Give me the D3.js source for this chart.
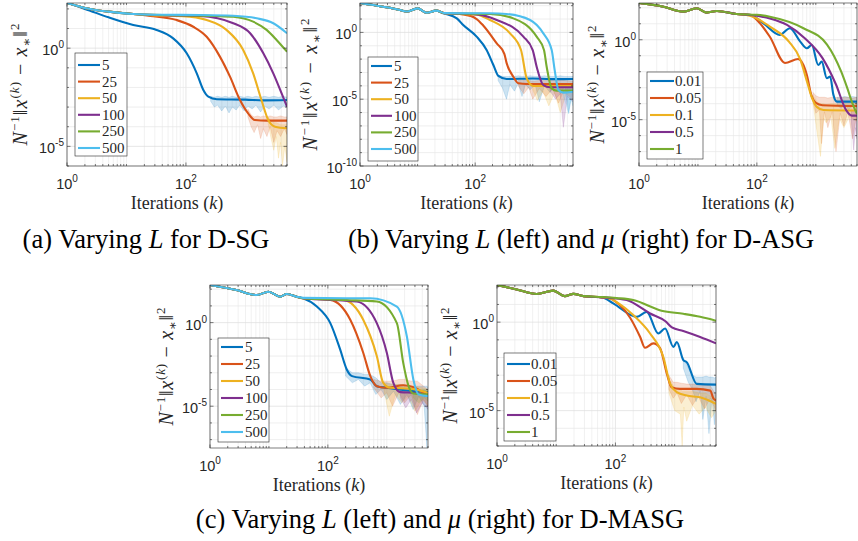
<!DOCTYPE html>
<html>
<head>
<meta charset="utf-8">
<style>
  body { margin: 0; background: #fff; }
  svg { display: block; }
</style>
<script src="https://cdn.jsdelivr.net/npm/d3@7"></script>
</head>
<body>
<script>
const colors = ["#0072BD", "#D95319", "#EDB120", "#7E2F8E", "#77AC30", "#4DBEEE"];
const lLabels = ["5", "25", "50", "100", "250", "500"];
const muLabels = ["0.01", "0.05", "0.1", "0.5", "1"];
const xDomain = [1, 5000];
const xTickExps = [0, 2];

// every series: [iteration k, log10 of N^-1 ||x^(k) - x*||^2]
// bands (faint per-run spread): [k, low log10, high log10]

// (a) D-SG, varying L
const sgHead = [[1, 2.3], [2, 2.05], [5, 1.86], [13, 1.74]];
const sgL5 = [[1, 2.3], [2, 2.0], [5, 1.57], [13, 1.18], [32, 0.93], [61, 0.5], [103, -0.26], [152, -1.28], [196, -2.13], [238, -2.47], [330, -2.6], [1000, -2.62], [2000, -2.66], [5000, -2.64]];
const sgL25 = sgHead.concat([[25, 1.64], [70, 1.43], [133, 1.09], [223, 0.58], [372, -0.43], [550, -1.45], [810, -2.64], [1110, -3.32], [1440, -3.66], [2300, -3.69], [5000, -3.69]]);
const sgL50 = sgHead.concat([[30, 1.67], [89, 1.63], [223, 1.43], [480, 0.93], [918, -0.09], [1350, -1.28], [1860, -2.64], [2420, -3.66], [3150, -4.0], [5000, -4.08]]);
const sgL100 = sgHead.concat([[40, 1.68], [173, 1.64], [625, 1.27], [1200, 0.76], [2000, -0.26], [2940, -1.28], [4060, -2.3], [5000, -2.98]]);
const sgL250 = sgHead.concat([[40, 1.69], [300, 1.64], [625, 1.6], [1350, 1.35], [2270, 0.93], [3340, 0.42], [5000, -0.18]]);
const sgL500 = sgHead.concat([[40, 1.7], [173, 1.69], [625, 1.65], [1550, 1.52], [2940, 1.27], [5000, 0.76]]);
const sgBand5 = [[260, -2.7, -2.45], [300, -3.0, -2.5], [340, -2.9, -2.45], [400, -3.2, -2.5], [460, -2.95, -2.45], [530, -3.3, -2.5], [600, -3.0, -2.45], [700, -3.15, -2.5], [800, -2.9, -2.45], [950, -3.2, -2.5], [1100, -2.95, -2.45], [1300, -3.1, -2.5], [1500, -2.9, -2.45], [1800, -3.25, -2.5], [2100, -2.95, -2.45], [2500, -3.1, -2.5], [3000, -2.9, -2.45], [3600, -3.15, -2.5], [4300, -2.95, -2.45], [5000, -3.0, -2.5]];
const sgBand25 = [[1100, -3.5, -3.1], [1250, -4.0, -3.4], [1400, -4.3, -3.5], [1600, -3.9, -3.45], [1800, -4.6, -3.5], [2000, -4.1, -3.45], [2300, -4.5, -3.5], [2600, -4.0, -3.45], [3000, -4.8, -3.5], [3400, -4.2, -3.5], [3900, -4.5, -3.45], [4500, -4.1, -3.5], [5000, -4.4, -3.5]];
const sgBand50 = [[2400, -3.8, -3.5], [2700, -4.6, -3.7], [3000, -5.2, -3.8], [3300, -4.5, -3.8], [3600, -5.6, -3.85], [3900, -4.8, -3.9], [4200, -6.0, -3.9], [4600, -5.0, -3.9], [5000, -5.8, -3.9]];

// (b, left) D-ASG, varying L
const asgHead = [[1, 2.2], [2.5, 1.92], [4.5, 1.72], [6.5, 1.56], [10, 1.8], [14.4, 1.47], [21, 1.63]];
const asgL5 = asgHead.concat([[28, 1.43], [48, 1.05], [62, 0.55], [106, -0.32], [158, -1.32], [207, -2.44], [253, -3.26], [352, -3.49], [1000, -3.45], [2000, -3.5], [5000, -3.49]]);
const asgL25 = asgHead.concat([[30, 1.43], [62, 1.35], [106, 1.0], [139, 0.5], [237, -0.82], [321, -1.6], [352, -2.3], [460, -3.32], [562, -3.81], [800, -3.86], [5000, -3.86]]);
const asgL50 = asgHead.concat([[30, 1.43], [106, 1.33], [181, 0.93], [403, -0.07], [625, -1.32], [785, -3.44], [1024, -4.01], [5000, -4.01]]);
const asgL100 = asgHead.concat([[30, 1.43], [106, 1.35], [237, 0.93], [687, -0.32], [998, -1.32], [1169, -2.57], [1527, -3.94], [1994, -4.11], [5000, -4.11]]);
const asgL250 = asgHead.concat([[30, 1.43], [181, 1.38], [460, 1.05], [1169, -0.32], [1567, -1.32], [1745, -2.57], [2133, -4.19], [2606, -4.36], [5000, -4.36]]);
const asgL500 = asgHead.concat([[30, 1.44], [181, 1.43], [352, 1.38], [897, 0.93], [1527, -0.07], [2133, -1.32], [2400, -2.8], [2786, -4.31], [3404, -4.51], [5000, -4.44]]);
const asgBand5 = [[250, -3.6, -3.2], [300, -4.2, -3.3], [350, -5.0, -3.3], [400, -3.9, -3.3], [480, -4.4, -3.3], [560, -3.8, -3.25], [650, -4.8, -3.3], [750, -3.9, -3.3], [900, -4.3, -3.25], [1100, -3.9, -3.3], [1300, -5.2, -3.3], [1600, -4.0, -3.25], [2000, -4.5, -3.3], [2500, -3.9, -3.3], [3000, -4.6, -3.25], [3600, -4.0, -3.3], [4200, -6.0, -3.3], [5000, -4.2, -3.3]];
const asgBand25 = [[560, -4.0, -3.6], [700, -4.6, -3.6], [850, -4.1, -3.6], [1000, -5.0, -3.65], [1300, -4.2, -3.6], [1700, -4.8, -3.6], [2200, -4.2, -3.6], [2800, -5.3, -3.6], [3500, -4.3, -3.6], [5000, -4.5, -3.65]];
const asgBand50 = [[1000, -4.3, -3.8], [1200, -5.1, -3.85], [1500, -4.4, -3.8], [1900, -5.5, -3.85], [2400, -4.5, -3.8], [3000, -6.0, -3.8], [3800, -4.6, -3.85], [5000, -5.0, -3.8]];
const asgBand100 = [[2000, -4.4, -3.9], [2500, -5.0, -3.95], [3000, -4.6, -3.9], [3400, -7.1, -3.9], [4000, -4.8, -3.95], [5000, -5.2, -3.9]];
const asgBand500 = [[3400, -4.8, -4.2], [3800, -5.4, -4.25], [4200, -6.1, -4.2], [4600, -5.0, -4.25], [5000, -5.5, -4.2]];

// (b, right) D-ASG, varying mu
const asgMuHead = [[1, 2.3], [2.6, 2.07], [5.7, 1.76], [9.5, 1.97], [14, 1.7], [21, 1.8], [45, 1.61]];
const asgMu1 = asgMuHead.concat([[76, 1.56], [129, 1.03], [245, 0.3], [363, 0.72], [540, -0.1], [705, -0.53], [855, -0.33], [1100, -1.58], [1260, -1.37], [1540, -2.41], [1750, -2.3], [1990, -3.45], [2280, -3.87], [5000, -3.87]]);
const asgMu2 = asgMuHead.concat([[76, 1.56], [100, 1.24], [166, 0.19], [300, -1.45], [500, -1.2], [705, -2.2], [830, -3.4], [1000, -3.95], [1300, -4.1], [5000, -4.15]]);
const asgMu3 = asgMuHead.concat([[76, 1.5], [100, 1.33], [166, 0.82], [350, -0.12], [540, -1.2], [720, -2.7], [855, -3.6], [1040, -4.2], [1350, -4.4], [5000, -4.43]]);
const asgMu4 = asgMuHead.concat([[100, 1.5], [166, 1.33], [324, 0.93], [650, 0.1], [1300, -1.15], [2200, -2.8], [3250, -4.39], [4100, -4.75], [5000, -4.75]]);
const asgMu5 = asgMuHead.concat([[100, 1.56], [166, 1.44], [617, 0.72], [1550, -0.3], [2700, -2.0], [3400, -3.0], [4200, -4.0], [5000, -4.65]]);
const asgMuBand1 = [[2300, -4.1, -3.6], [2700, -4.3, -3.6], [3100, -4.0, -3.55], [3600, -4.4, -3.6], [4200, -4.1, -3.55], [5000, -4.3, -3.6]];
const asgMuBand2 = [[900, -3.9, -3.3], [1000, -4.6, -3.5], [1150, -4.4, -3.6], [1250, -6.5, -3.6], [1400, -4.5, -3.6], [1600, -5.5, -3.65], [1900, -4.5, -3.6], [2200, -7.0, -3.6], [2600, -4.6, -3.65], [3000, -5.4, -3.6], [3500, -4.5, -3.6], [4200, -6.2, -3.65], [5000, -4.6, -3.6]];
const asgMuBand3 = [[900, -4.0, -3.5], [1050, -5.8, -3.9], [1200, -7.3, -4.0], [1350, -4.9, -4.0], [1500, -5.2, -4.05], [1800, -4.8, -4.0], [2100, -6.8, -4.0], [2500, -4.9, -4.05], [3000, -5.5, -4.0], [3700, -4.8, -4.0], [5000, -5.1, -4.0]];
const asgMuBand4 = [[4000, -5.0, -4.4], [4400, -6.9, -4.5], [4700, -5.5, -4.5], [5000, -6.2, -4.5]];

// (c, left) D-MASG, varying L
const masgHead = [[1, 2.25], [2.8, 1.95], [6.2, 1.65], [9.8, 1.85], [15.5, 1.55], [20, 1.71], [29.5, 1.55]];
const masgL5 = masgHead.concat([[38, 1.46], [65, 0.96], [110, -0.03], [162, -1.62], [209, -2.8], [257, -3.2], [525, -3.4], [676, -3.8], [1000, -3.9], [2000, -4.05], [5000, -4.15]]);
const masgL25 = masgHead.concat([[38, 1.46], [110, 1.36], [240, 0.17], [398, -1.8], [525, -3.2], [676, -3.8], [1000, -3.9], [1900, -3.75], [3000, -3.9], [5000, -4.4]]);
const masgL50 = masgHead.concat([[38, 1.46], [182, 1.36], [398, 0.17], [676, -2.0], [870, -3.6], [1150, -3.9], [2500, -3.95], [5000, -4.2]]);
const masgL100 = masgHead.concat([[38, 1.46], [309, 1.26], [676, -0.03], [1000, -1.8], [1290, -3.6], [1700, -4.16], [3000, -4.2], [5000, -4.4]]);
const masgL250 = masgHead.concat([[38, 1.46], [200, 1.35], [676, 1.26], [1480, -0.03], [1900, -2.41], [2340, -3.8], [2820, -4.24], [5000, -4.3]]);
const masgL500 = masgHead.concat([[38, 1.48], [200, 1.46], [525, 1.46], [1480, 0.96], [2190, -0.83], [2820, -3.4], [3470, -4.3], [5000, -4.4]]);
const masgBand5 = [[200, -3.2, -2.7], [260, -3.6, -3.0], [330, -3.4, -3.0], [420, -3.8, -3.1], [520, -3.6, -3.1], [650, -4.3, -3.3], [800, -4.0, -3.6], [1000, -4.6, -3.6], [1300, -4.1, -3.7], [1700, -4.9, -3.7], [2200, -4.3, -3.75], [2800, -5.2, -3.8], [3500, -4.4, -3.8], [4300, -5.0, -3.8], [4800, -7.5, -3.8], [5000, -4.6, -3.9]];
const masgBand25 = [[600, -3.9, -3.4], [800, -4.5, -3.5], [1000, -4.2, -3.5], [1250, -5.0, -3.5], [1600, -4.2, -3.4], [2000, -4.8, -3.4], [2600, -4.3, -3.5], [3300, -5.5, -3.5], [4200, -4.6, -3.8], [5000, -5.0, -4.0]];
const masgBand50 = [[900, -4.1, -3.6], [1100, -5.6, -3.7], [1400, -4.3, -3.7], [1800, -4.8, -3.7], [2300, -4.4, -3.75], [3000, -5.3, -3.8], [4000, -4.6, -3.9], [5000, -5.0, -4.0]];
const masgBand100 = [[1700, -4.5, -4.0], [2100, -5.1, -4.0], [2600, -4.6, -4.0], [3200, -5.4, -4.05], [4000, -4.8, -4.1], [5000, -5.2, -4.2]];
const masgBand250 = [[2800, -4.5, -4.0], [3500, -4.8, -4.05], [4300, -4.5, -4.0], [5000, -4.7, -4.05]];

// (c, right) D-MASG, varying mu
const masgMuHead = [[1, 2.1], [2.15, 1.85], [4.7, 1.59], [8.9, 1.78], [14, 1.47], [19.5, 1.6], [29, 1.47]];
const masgMu1 = masgMuHead.concat([[60, 1.4], [92, 1.06], [230, 0.3], [338, 0.58], [530, -0.64], [690, -0.36], [955, -1.4], [1090, -1.12], [1410, -2.16], [1600, -2.26], [2360, -3.49], [5000, -3.53]]);
const masgMu2 = masgMuHead.concat([[60, 1.4], [81, 1.34], [120, 0.95], [177, 0.25], [262, -0.84], [317, -1.45], [437, -1.2], [565, -1.45], [740, -2.92], [890, -3.68], [1230, -3.77], [2360, -3.77], [4000, -3.87], [4500, -4.3], [5000, -4.43]]);
const masgMu3 = masgMuHead.concat([[60, 1.4], [81, 1.34], [120, 1.0], [200, 0.4], [385, -0.64], [645, -1.97], [840, -3.49], [1090, -3.96], [1600, -4.15], [2690, -4.25], [5000, -4.62]]);
const masgMu4 = masgMuHead.concat([[60, 1.4], [105, 1.34], [155, 1.25], [385, 0.49], [700, 0.05], [900, -0.3], [1400, -0.5], [2700, -0.84], [5000, -1.2]]);
const masgMu5 = masgMuHead.concat([[60, 1.42], [105, 1.36], [200, 1.25], [600, 0.65], [1400, 0.47], [2700, 0.3], [5000, 0.08]]);
const masgMuBand1 = [[1400, -2.6, -2.0], [1700, -3.4, -2.6], [2000, -3.8, -3.0], [2300, -4.5, -3.1], [2700, -3.9, -3.1], [3000, -5.5, -3.1], [3400, -4.2, -3.05], [3800, -6.3, -3.1], [4300, -4.3, -3.1], [4700, -5.8, -3.15], [5000, -4.0, -3.1]];
const masgMuBand2 = [[800, -3.8, -3.0], [950, -4.3, -3.4], [1100, -4.0, -3.4], [1300, -4.6, -3.45], [1600, -4.1, -3.5], [2000, -4.7, -3.5], [2500, -4.2, -3.5], [3200, -4.9, -3.5], [4000, -4.3, -3.6], [5000, -5.0, -4.1]];
const masgMuBand3 = [[800, -4.0, -3.2], [1000, -5.0, -3.7], [1250, -5.2, -3.8], [1340, -7.0, -3.9], [1430, -4.8, -3.9], [1600, -5.6, -3.9], [2000, -4.7, -3.9], [2600, -5.2, -4.0], [3300, -4.8, -4.0], [4200, -5.4, -4.2], [5000, -5.0, -4.3]];

const serif = "'Liberation Serif', 'DejaVu Serif', serif";
const sans = "'Liberation Sans', Arial, sans-serif";

const panels = [
  { left: 67, right: 287, top: 3, bottom: 166, yLog: [-6, 2.3], yTicks: [-5, 0], ytOff: 40, ytLen: 122,
    lines: [sgL5, sgL25, sgL50, sgL100, sgL250, sgL500], bands: [sgBand5, sgBand25, sgBand50],
    labels: lLabels, leg: { x: 75, y: 53, w: 52, h: 103, row0: 65, step: 16.6, lx0: 78, lx1: 100, tx: 102 } },
  { left: 360, right: 573, top: 3, bottom: 166, yLog: [-10, 2.2], yTicks: [-10, -5, 0], ytOff: 43, ytLen: 132,
    lines: [asgL5, asgL25, asgL50, asgL100, asgL250, asgL500], bands: [asgBand5, asgBand25, asgBand50, asgBand100, null, asgBand500],
    labels: lLabels, leg: { x: 368, y: 57, w: 50, h: 104, row0: 66, step: 16.6, lx0: 371, lx1: 392, tx: 394 } },
  { left: 639, right: 857, top: 3, bottom: 166, yLog: [-7.9, 2.3], yTicks: [-5, 0], ytOff: 35, ytLen: 118,
    lines: [asgMu1, asgMu2, asgMu3, asgMu4, asgMu5], bands: [asgMuBand1, asgMuBand2, asgMuBand3, asgMuBand4],
    labels: muLabels, leg: { x: 647, y: 72, w: 56, h: 87, row0: 81, step: 17, lx0: 650, lx1: 674, tx: 675 } },
  { left: 210, right: 428, top: 285, bottom: 448, yLog: [-7.5, 2.25], yTicks: [-5, 0], ytOff: 37, ytLen: 118,
    lines: [masgL5, masgL25, masgL50, masgL100, masgL250, masgL500], bands: [masgBand5, masgBand25, masgBand50, masgBand100, masgBand250],
    labels: lLabels, leg: { x: 218, y: 338, w: 51, h: 104, row0: 347, step: 17, lx0: 221, lx1: 243, tx: 245 } },
  { left: 497, right: 716, top: 285, bottom: 446, yLog: [-7, 2.1], yTicks: [-5, 0], ytOff: 40, ytLen: 116,
    lines: [masgMu1, masgMu2, masgMu3, masgMu4, masgMu5], bands: [masgMuBand1, masgMuBand2, masgMuBand3],
    labels: muLabels, leg: { x: 504, y: 353, w: 52, h: 88, row0: 364, step: 17, lx0: 507, lx1: 530, tx: 531 } }
];

const svg = d3.select("body").append("svg")
  .attr("width", 858)
  .attr("height", 541);

function powLabel(sel, exp) {
  sel.append("tspan").text("10");
  sel.append("tspan").attr("dy", -7).attr("font-size", 10).text(String(exp));
}

function drawPanel(p, idx) {
  const x = d3.scaleLog().domain(xDomain).range([p.left, p.right]);
  const y = d3.scaleLog().domain([10 ** p.yLog[0], 10 ** p.yLog[1]]).range([p.bottom, p.top]);
  const g = svg.append("g");
  const clipId = "clip" + idx;
  g.append("clipPath").attr("id", clipId)
    .append("rect")
    .attr("x", p.left).attr("y", p.top)
    .attr("width", p.right - p.left).attr("height", p.bottom - p.top);

  const minorX = x.ticks();
  const decY = d3.range(Math.ceil(p.yLog[0]), Math.floor(p.yLog[1]) + 1);

  // grid
  g.append("g").selectAll("line").data(minorX).enter().append("line")
    .attr("x1", d => x(d)).attr("x2", d => x(d))
    .attr("y1", p.top).attr("y2", p.bottom)
    .attr("stroke", d => xTickExps.includes(Math.log10(d)) ? "#dcdcdc" : "#ebebeb")
    .attr("stroke-width", 0.7);
  g.append("g").selectAll("line").data(decY).enter().append("line")
    .attr("x1", p.left).attr("x2", p.right)
    .attr("y1", d => y(10 ** d)).attr("y2", d => y(10 ** d))
    .attr("stroke", d => p.yTicks.includes(d) ? "#dcdcdc" : "#e6e6e6")
    .attr("stroke-width", 0.7);

  const plot = g.append("g").attr("clip-path", `url(#${clipId})`);
  const area = d3.area()
    .x(d => x(d[0]))
    .y0(d => y(10 ** d[1]))
    .y1(d => y(10 ** d[2]));
  p.bands.forEach((b, i) => {
    if (!b) return;
    plot.append("path").datum(b)
      .attr("d", area)
      .attr("fill", colors[i])
      .attr("fill-opacity", 0.2)
      .attr("stroke", colors[i])
      .attr("stroke-opacity", 0.25)
      .attr("stroke-width", 0.6);
  });
  const line = d3.line()
    .x(d => x(d[0]))
    .y(d => y(10 ** d[1]))
    .curve(d3.curveMonotoneX);
  p.lines.forEach((s, i) => {
    plot.append("path").datum(s)
      .attr("d", line)
      .attr("fill", "none")
      .attr("stroke", colors[i])
      .attr("stroke-width", 2.1)
      .attr("stroke-linejoin", "round");
  });

  // ticks (inward, both sides)
  const tk = g.append("g").attr("stroke", "#262626").attr("stroke-width", 0.6);
  minorX.forEach(d => {
    const len = xTickExps.includes(Math.log10(d)) ? 3.5 : 2;
    tk.append("line").attr("x1", x(d)).attr("x2", x(d)).attr("y1", p.bottom).attr("y2", p.bottom - len);
    tk.append("line").attr("x1", x(d)).attr("x2", x(d)).attr("y1", p.top).attr("y2", p.top + len);
  });
  decY.forEach(d => {
    const len = p.yTicks.includes(d) ? 3.5 : 2;
    tk.append("line").attr("y1", y(10 ** d)).attr("y2", y(10 ** d)).attr("x1", p.left).attr("x2", p.left + len);
    tk.append("line").attr("y1", y(10 ** d)).attr("y2", y(10 ** d)).attr("x1", p.right).attr("x2", p.right - len);
  });

  // legend
  const L = p.leg;
  const lg = g.append("g");
  lg.append("rect").attr("x", L.x).attr("y", L.y).attr("width", L.w).attr("height", L.h)
    .attr("fill", "#fff").attr("stroke", "#262626").attr("stroke-width", 0.6);
  p.labels.forEach((lab, i) => {
    const ry = L.row0 + i * L.step;
    lg.append("line").attr("x1", L.lx0).attr("x2", L.lx1).attr("y1", ry).attr("y2", ry)
      .attr("stroke", colors[i]).attr("stroke-width", 2.1);
    lg.append("text").attr("x", L.tx).attr("y", ry + 5)
      .attr("font-family", serif).attr("font-size", 15).attr("fill", "#262626")
      .text(lab);
  });

  // box
  g.append("rect").attr("x", p.left).attr("y", p.top)
    .attr("width", p.right - p.left).attr("height", p.bottom - p.top)
    .attr("fill", "none").attr("stroke", "#262626").attr("stroke-width", 0.6);

  // tick labels
  xTickExps.forEach(e => {
    const t = svg.append("text")
      .attr("x", x(10 ** e)).attr("y", p.bottom + 23)
      .attr("text-anchor", "middle")
      .attr("font-family", sans).attr("font-size", 14.5).attr("fill", "#262626");
    powLabel(t, e);
  });
  p.yTicks.forEach(e => {
    const t = svg.append("text")
      .attr("x", p.left - 3).attr("y", y(10 ** e) + 7)
      .attr("text-anchor", "end")
      .attr("font-family", sans).attr("font-size", 14.5).attr("fill", "#262626");
    powLabel(t, e);
  });

  // axis titles
  const xt = svg.append("text")
    .attr("x", (p.left + p.right) / 2).attr("y", p.bottom + 43)
    .attr("text-anchor", "middle")
    .attr("font-family", serif).attr("font-size", 18).attr("fill", "#262626");
  xt.append("tspan").text("Iterations (");
  xt.append("tspan").attr("font-style", "italic").text("k");
  xt.append("tspan").text(")");

  const yt = svg.append("text")
    .attr("transform", `translate(${p.left - p.ytOff},${(p.top + p.bottom) / 2}) rotate(-90)`)
    .attr("text-anchor", "middle")
    .attr("textLength", p.ytLen).attr("lengthAdjust", "spacing")
    .attr("font-family", serif).attr("font-size", 20).attr("fill", "#262626");
  yt.append("tspan").attr("font-style", "italic").text("N");
  yt.append("tspan").attr("dy", -8).attr("font-size", 13).text("−1");
  yt.append("tspan").attr("dy", 8).text("‖");
  yt.append("tspan").attr("font-style", "italic").text("x");
  yt.append("tspan").attr("dy", -8).attr("font-size", 13).text("(");
  yt.append("tspan").attr("font-size", 13).attr("font-style", "italic").text("k");
  yt.append("tspan").attr("font-size", 13).text(")");
  yt.append("tspan").attr("dy", 8).text(" − ");
  yt.append("tspan").attr("font-style", "italic").text("x");
  yt.append("tspan").attr("dy", 4).attr("font-size", 13).text("∗");
  yt.append("tspan").attr("dy", -4).text("‖");
  yt.append("tspan").attr("dy", -8).attr("font-size", 13).text("2");
}

panels.forEach(drawPanel);

// captions
function caption(cx, cy, parts) {
  const t = svg.append("text").attr("x", cx).attr("y", cy)
    .attr("text-anchor", "middle")
    .attr("font-family", serif).attr("font-size", 26.5).attr("fill", "#000");
  parts.forEach(pt => {
    const s = t.append("tspan").text(pt[0]);
    if (pt[1]) s.attr("font-style", "italic");
  });
}
caption(146, 248, [["(a) Varying "], ["L", true], [" for D-SG"]]);
caption(581, 248, [["(b) Varying "], ["L", true], [" (left) and "], ["μ", true], [" (right) for D-ASG"]]);
caption(440, 528, [["(c) Varying "], ["L", true], [" (left) and "], ["μ", true], [" (right) for D-MASG"]]);
</script>
</body>
</html>
